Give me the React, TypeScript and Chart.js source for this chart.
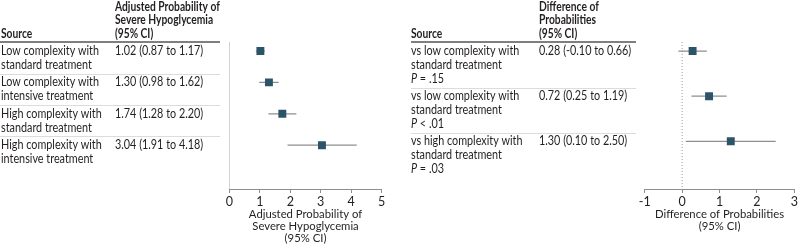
import React, { useEffect, useRef } from "react";
import { Chart, registerables } from "chart.js";

Chart.register(...registerables);

const FONT = "Lato, 'Open Sans', sans-serif";

// ---------- Left panel data ----------
const leftSources: string[][] = [
  ["Low complexity with", "standard treatment"],
  ["Low complexity with", "intensive treatment"],
  ["High complexity with", "standard treatment"],
  ["High complexity with", "intensive treatment"],
];
const leftValueLabels = [
  "1.02 (0.87 to 1.17)",
  "1.30 (0.98 to 1.62)",
  "1.74 (1.28 to 2.20)",
  "3.04 (1.91 to 4.18)",
];
const leftEstimates = [1.02, 1.3, 1.74, 3.04];
const leftLower = [0.87, 0.98, 1.28, 1.91];
const leftUpper = [1.17, 1.62, 2.2, 4.18];
const leftHeader = ["Adjusted Probability of", "Severe Hypoglycemia", "(95% CI)"];
const leftAxisTitle = ["Adjusted Probability of", "Severe Hypoglycemia", "(95% CI)"];
const leftXRange = [0, 5];

// ---------- Right panel data ----------
const rightSources: string[][] = [
  ["vs low complexity with", "standard treatment"],
  ["vs low complexity with", "standard treatment"],
  ["vs high complexity with", "standard treatment"],
];
const rightPValues = ["= .15", "< .01", "= .03"];
const rightValueLabels = [
  "0.28 (-0.10 to 0.66)",
  "0.72 (0.25 to 1.19)",
  "1.30 (0.10 to 2.50)",
];
const rightEstimates = [0.28, 0.72, 1.3];
const rightLower = [-0.1, 0.25, 0.1];
const rightUpper = [0.66, 1.19, 2.5];
const rightHeader = ["Difference of", "Probabilities", "(95% CI)"];
const rightAxisTitle = ["Difference of Probabilities", "(95% CI)"];
const rightXRange = [-1, 3];

type PanelProps = {
  sources: string[][];
  pValues?: string[];
  valueLabels: string[];
  est: number[];
  lo: number[];
  hi: number[];
  header: string[];
  axisTitle: string[];
  titlePadBottom: number;
  xRange: number[];
  yRange: number[];
  refDash: number[];
  refColor: string;
  padLeft: number;
  padRight: number;
  col1X: number;
  col2X: number;
  ruleStart: number;
  ruleEnd: number;
};

const SX = 0.865;
const SX_BOLD = 0.82;

function drawText(
  ctx: CanvasRenderingContext2D,
  text: string,
  x: number,
  y: number,
  sx: number
) {
  ctx.save();
  ctx.translate(x, y);
  ctx.scale(sx, 1);
  ctx.fillText(text, 0, 0);
  ctx.restore();
}

function ForestPanel(p: PanelProps) {
  const ref = useRef<HTMLCanvasElement | null>(null);

  useEffect(() => {
    if (!ref.current) return;
    const rows = p.est.map((_, i) => i + 1);

    const tablePlugin = {
      id: "forestTable",
      afterDraw(chart: any) {
        const ctx = chart.ctx as CanvasRenderingContext2D;
        const ys = chart.scales.y;
        const top = chart.chartArea.top;
        ctx.save();
        ctx.textBaseline = "middle";
        ctx.textAlign = "left";
        ctx.fillStyle = "#231f20";
        ctx.font = `bold 12.5px ${FONT}`;
        drawText(ctx, "Source", p.col1X, top - 8.5, SX_BOLD);
        p.header.forEach((t, i) => {
          drawText(ctx, t, p.col2X, top - 35.5 + i * 13.5, SX_BOLD);
        });
        ctx.strokeStyle = "#555";
        ctx.lineWidth = 1.5;
        ctx.beginPath();
        ctx.moveTo(p.ruleStart, top);
        ctx.lineTo(p.ruleEnd, top);
        ctx.stroke();

        rows.forEach((r, i) => {
          const y0 = ys.getPixelForValue(r);
          ctx.font = `12.5px ${FONT}`;
          ctx.fillStyle = "#231f20";
          const lines = p.sources[i];
          lines.forEach((t, j) => drawText(ctx, t, p.col1X, y0 + j * 14, SX));
          let nLines = lines.length;
          if (p.pValues) {
            const yp = y0 + nLines * 14;
            ctx.font = `italic 12.5px ${FONT}`;
            drawText(ctx, "P", p.col1X, yp, SX);
            const w = ctx.measureText("P").width * SX;
            ctx.font = `12.5px ${FONT}`;
            drawText(ctx, " " + p.pValues[i], p.col1X + w, yp, SX);
            nLines += 1;
          }
          drawText(ctx, p.valueLabels[i], p.col2X, y0, SX);
          if (i < rows.length - 1) {
            const ySep = Math.round(y0 + (nLines - 1) * 14 + 8.5) + 0.5;
            ctx.strokeStyle = "#dcdcdc";
            ctx.lineWidth = 1;
            ctx.beginPath();
            ctx.moveTo(p.ruleStart, ySep);
            ctx.lineTo(p.ruleEnd, ySep);
            ctx.stroke();
          }
        });
        ctx.restore();
      },
    };

    const datasets: any[] = [
      {
        type: "scatter",
        data: rows.map((r, i) => ({ x: p.est[i], y: r })),
        pointStyle: "rect",
        pointRadius: 5.6,
        pointBorderWidth: 0,
        backgroundColor: "#2b5468",
        borderColor: "#2b5468",
        order: 0,
      },
      ...rows.map((r, i) => ({
        type: "line",
        data: [
          { x: p.lo[i], y: r },
          { x: p.hi[i], y: r },
        ],
        borderColor: "#8e8e8e",
        borderWidth: 1.2,
        pointRadius: 0,
        order: 1,
      })),
      {
        type: "line",
        data: [
          { x: 0, y: p.yRange[0] },
          { x: 0, y: p.yRange[1] },
        ],
        borderColor: p.refColor,
        borderWidth: 1,
        borderDash: p.refDash,
        pointRadius: 0,
        order: 2,
      },
    ];

    const chart = new Chart(ref.current, {
      type: "scatter",
      data: { datasets },
      options: {
        animation: false,
        responsive: false,
        events: [],
        layout: {
          padding: { left: p.padLeft, right: p.padRight, top: 42, bottom: 0 },
        },
        plugins: {
          legend: { display: false },
          tooltip: { enabled: false },
          title: { display: false },
        },
        scales: {
          x: {
            type: "linear",
            position: "bottom",
            min: p.xRange[0],
            max: p.xRange[1],
            afterFit: (s: any) => {
              s.height = 59;
            },
            ticks: {
              stepSize: 1,
              color: "#231f20",
              font: { family: FONT, size: 12.5 },
              padding: 1,
              maxRotation: 0,
            },
            grid: {
              drawOnChartArea: false,
              drawTicks: true,
              tickLength: 4,
              color: "#8e8e8e",
              lineWidth: 1,
            },
            border: { display: true, color: "#8e8e8e", width: 1 },
            title: {
              display: true,
              text: p.axisTitle,
              color: "#231f20",
              font: { family: FONT, size: 11.3, lineHeight: 12 / 11.3 },
              padding: { top: 0, bottom: p.titlePadBottom },
            },
          },
          y: {
            type: "linear",
            display: false,
            reverse: true,
            min: p.yRange[0],
            max: p.yRange[1],
          },
        },
      },
      plugins: [tablePlugin],
    } as any);
    return () => chart.destroy();
  }, []);

  return (
    <canvas
      ref={ref}
      width={400}
      height={248}
      style={{ display: "block", width: 400, height: 248 }}
    />
  );
}

export default function App() {
  return (
    <div
      style={{
        position: "absolute",
        left: 0,
        top: 0,
        width: 800,
        height: 248,
        display: "flex",
        background: "#fff",
      }}
    >
      <ForestPanel
        sources={leftSources}
        valueLabels={leftValueLabels}
        est={leftEstimates}
        lo={leftLower}
        hi={leftUpper}
        header={leftHeader}
        axisTitle={leftAxisTitle}
        titlePadBottom={3.3}
        xRange={leftXRange}
        yRange={[0.713, 5.395]}
        refDash={[]}
        refColor="#cfcfcf"
        padLeft={229.3}
        padRight={18.3}
        col1X={1}
        col2X={115}
        ruleStart={0}
        ruleEnd={220}
      />
      <ForestPanel
        sources={rightSources}
        pValues={rightPValues}
        valueLabels={rightValueLabels}
        est={rightEstimates}
        lo={rightLower}
        hi={rightUpper}
        header={rightHeader}
        axisTitle={rightAxisTitle}
        titlePadBottom={15.3}
        xRange={rightXRange}
        yRange={[0.8, 4.056]}
        refDash={[1, 2]}
        refColor="#9a9a9a"
        padLeft={244.7}
        padRight={3.3}
        col1X={11}
        col2X={139}
        ruleStart={11}
        ruleEnd={236}
      />
    </div>
  );
}
